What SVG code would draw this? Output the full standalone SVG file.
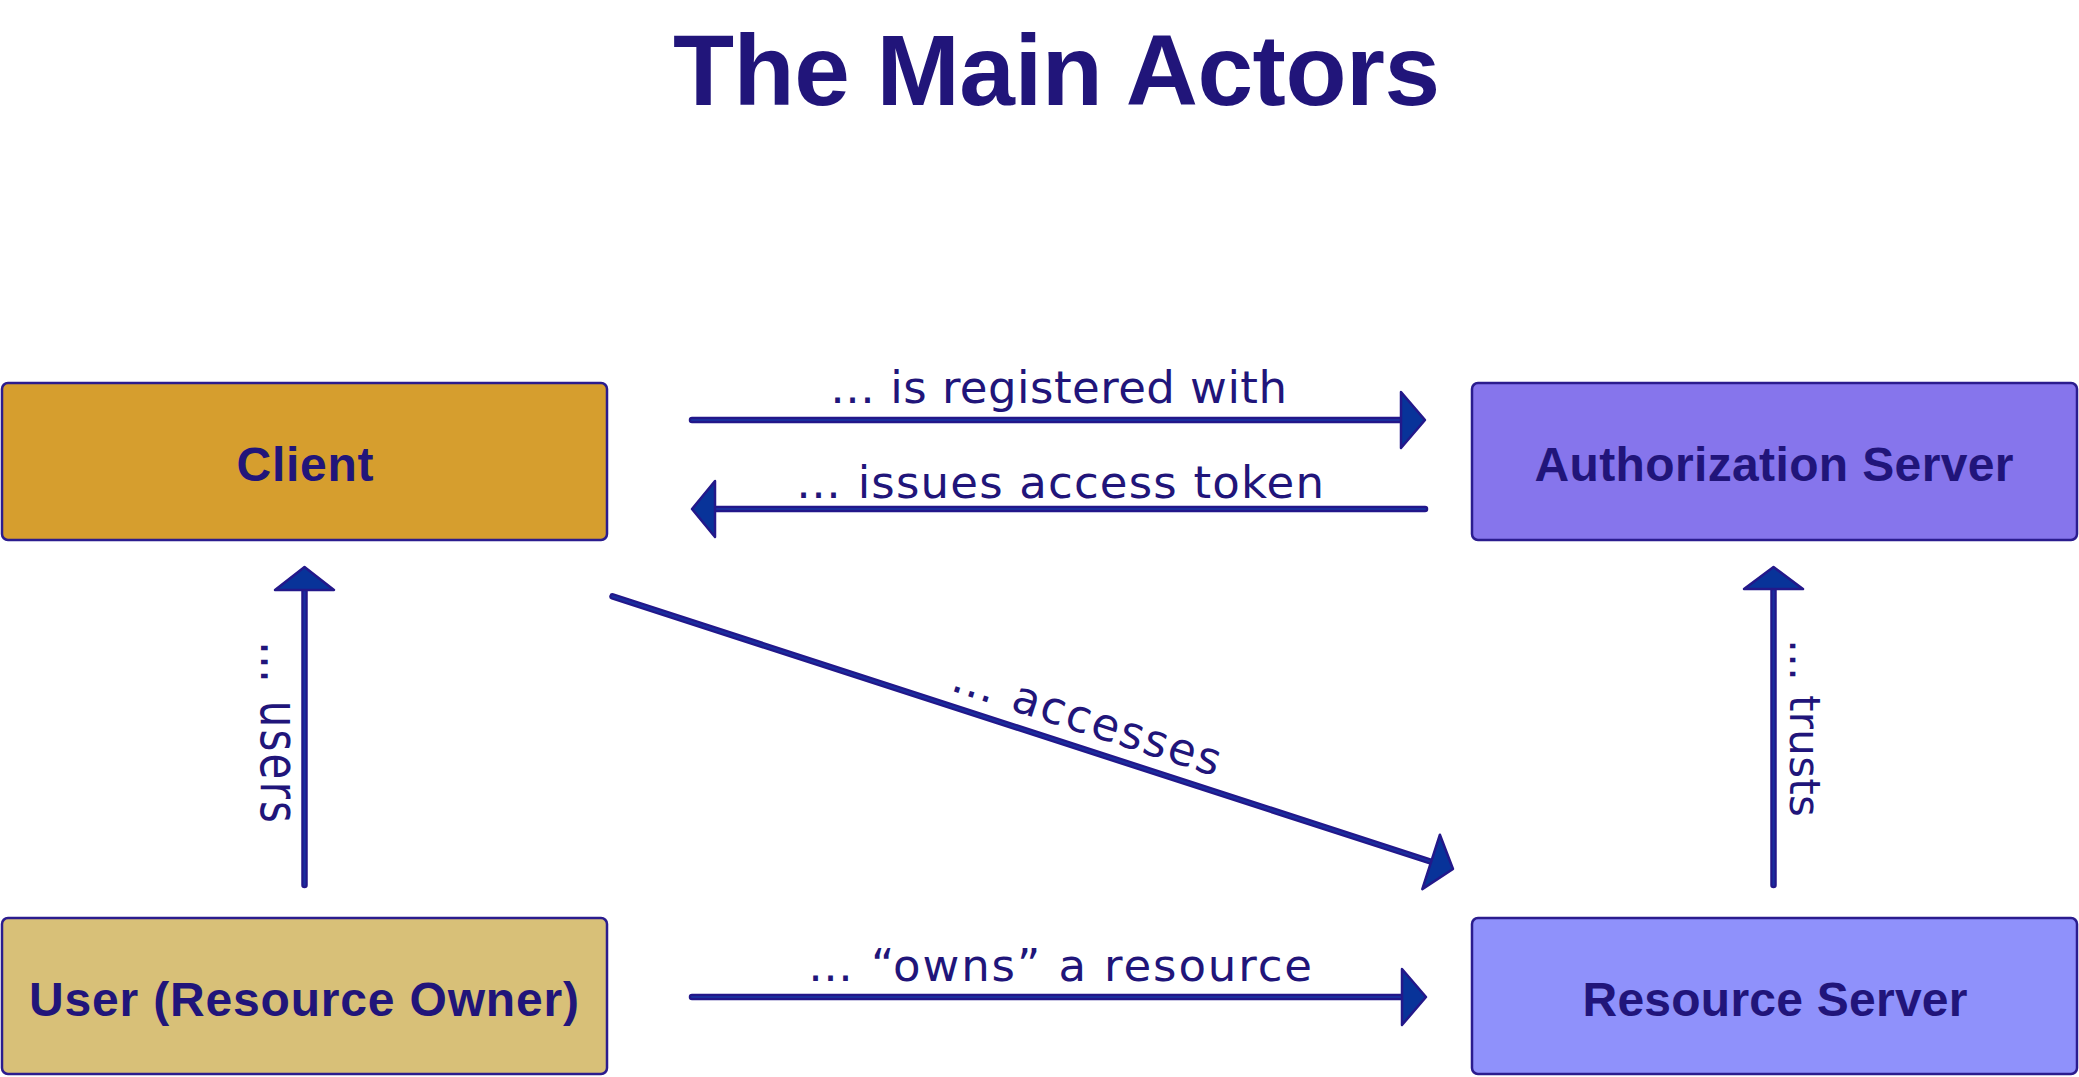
<svg xmlns="http://www.w3.org/2000/svg" width="2079" height="1077" viewBox="0 0 2079 1077">
  <style>
    .box { stroke: #2B1C8E; stroke-width: 2.5; }
    .node-text { font-family: "Liberation Sans", Arial, sans-serif; font-weight: bold; font-size: 48px; fill: #21157A; text-anchor: middle; }
    .title { font-family: "Liberation Sans", Arial, sans-serif; font-weight: bold; font-size: 100px; fill: #21157A; }
    .label { font-family: "DejaVu Sans", sans-serif; font-size: 45px; fill: #21157A; }
    .vlabel { font-family: "DejaVu Sans", sans-serif; font-size: 42px; fill: #21157A; }
    .line-outer { fill: none; stroke: #22178A; stroke-width: 6.5; stroke-linecap: round; }
    .line-inner { fill: none; stroke: #1A2E9E; stroke-width: 2.2; stroke-linecap: round; }
    .head { fill: #083399; stroke: #23188A; stroke-width: 2.5; stroke-linejoin: round; }
  </style>

  <rect width="2079" height="1077" fill="#FFFFFF"/>

  <text class="title" x="673" y="105" textLength="767">The Main Actors</text>

  <g id="client">
    <rect class="box" x="2" y="383" width="605" height="157" rx="6" fill="#D69E2E"/>
    <text class="node-text" x="305" y="481" textLength="137">Client</text>
  </g>

  <g id="authorization-server">
    <rect class="box" x="1472" y="383" width="605" height="157" rx="6" fill="#8675EC"/>
    <text class="node-text" x="1774" y="481" textLength="479">Authorization Server</text>
  </g>

  <g id="user">
    <rect class="box" x="2" y="918" width="605" height="156" rx="6" fill="#D8C078"/>
    <text class="node-text" x="304" y="1016" textLength="550">User (Resource Owner)</text>
  </g>

  <g id="resource-server">
    <rect class="box" x="1472" y="918" width="605" height="156" rx="6" fill="#8F91FB"/>
    <text class="node-text" x="1775" y="1016" textLength="385">Resource Server</text>
  </g>

  <g id="connectors">
    <!-- Client -> Authorization Server: is registered with -->
    <g id="edge-registered">
      <path class="line-outer" d="M692 420 H1402"/>
      <path class="line-inner" d="M692 420 H1402"/>
      <polygon class="head" points="1401,392 1425,420 1401,448"/>
      <text class="label" x="830" y="403" textLength="457">… is registered with</text>
    </g>

    <!-- Authorization Server -> Client: issues access token -->
    <g id="edge-issues">
      <path class="line-outer" d="M1425 509 H714"/>
      <path class="line-inner" d="M1425 509 H714"/>
      <polygon class="head" points="715,481 692,509 715,537"/>
      <text class="label" x="796" y="498" textLength="528">… issues access token</text>
    </g>

    <!-- Client -> Resource Server: accesses -->
    <g id="edge-accesses">
      <path class="line-outer" d="M612.5 596.4 L1432 862"/>
      <path class="line-inner" d="M612.5 596.4 L1432 862"/>
      <polygon class="head" points="1439.9,834.7 1453,869 1422.3,889.1"/>
      <text class="label" transform="translate(949 690) rotate(17.97)" x="0" y="0" textLength="280">… accesses</text>
    </g>

    <!-- User -> Client: users -->
    <g id="edge-users">
      <path class="line-outer" d="M304.5 885 V589"/>
      <path class="line-inner" d="M304.5 885 V589"/>
      <polygon class="head" points="275,590 304.5,567 334,590"/>
      <text class="vlabel" transform="translate(260.5 641) rotate(90) scale(1 1.27)" x="0" y="0" textLength="182">… users</text>
    </g>

    <!-- User -> Resource Server: owns a resource -->
    <g id="edge-owns">
      <path class="line-outer" d="M692 997 H1402"/>
      <path class="line-inner" d="M692 997 H1402"/>
      <polygon class="head" points="1402,969 1426,997 1402,1025"/>
      <text class="label" x="808" y="981" textLength="504">… “owns” a resource</text>
    </g>

    <!-- Resource Server -> Authorization Server: trusts -->
    <g id="edge-trusts">
      <path class="line-outer" d="M1773.5 885 V589"/>
      <path class="line-inner" d="M1773.5 885 V589"/>
      <polygon class="head" points="1744,589 1773.5,567 1803,589"/>
      <text class="vlabel" transform="translate(1790 639) rotate(90)" x="0" y="0" textLength="178">… trusts</text>
    </g>
  </g>
</svg>
